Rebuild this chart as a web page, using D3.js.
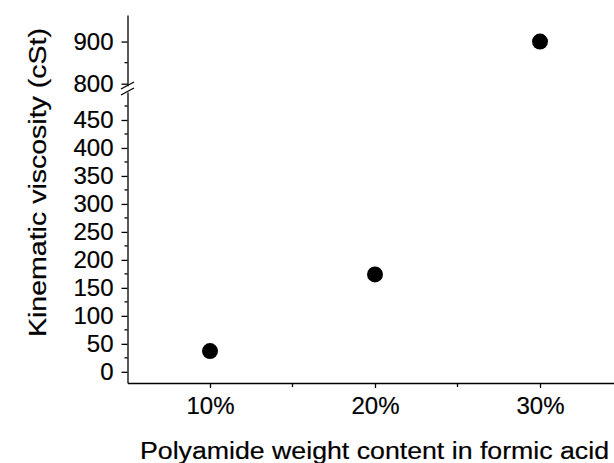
<!DOCTYPE html>
<html>
  <head>
      <script src="https://cdnjs.cloudflare.com/ajax/libs/d3/7.8.5/d3.min.js"></script>
<style>
    body { margin: 0; background: #fff; }
    svg text { font-family: "Liberation Sans", Arial, sans-serif; fill: #000; stroke: #000; stroke-width: 0.2px; }
    .axis path, .axis line { stroke: #000; stroke-width: 1.3; }
</style>
</head>

<body>
    <div id="vis"></div>
</body>
<script type="text/javascript">

    // polyamide weight content (%) and kinematic viscosity (cSt)
    const content = [10, 20, 30];
    const viscosity = [37, 174, 900];

    const xTicks = [10, 20, 30], xMinor = [15, 25];
    const lowTicks = d3.range(0, 451, 50), lowMinor = d3.range(25, 500, 50);
    const highTicks = [800, 900], highMinor = [850];

    const W = 614, H = 463;
    const svg = d3.select("#vis").append("svg").attr("width", W).attr("height", H);

    const x = d3.scaleLinear().domain([5, 35]).range([127.5, 622.5]);
    const yLow = d3.scaleLinear().domain([-20, 500]).range([383, 92]);
    const yHigh = d3.scaleLinear().domain([795, 963]).range([85.8, 15]);
    const y = v => v > 500 ? yHigh(v) : yLow(v);

    // minor ticks first, so the major axis draws on top
    function minor(g, scale, vals, size, dir) {
        g.selectAll("line.minor").data(vals).enter().append("line")
            .attr("class", "minor")
            .attr("x1", d => dir == "x" ? scale(d) : 0)
            .attr("x2", d => dir == "x" ? scale(d) : -size)
            .attr("y1", d => dir == "x" ? 0 : scale(d))
            .attr("y2", d => dir == "x" ? size : scale(d));
    }

    const gx = svg.append("g").attr("class", "axis").attr("transform", "translate(0,383)");
    minor(gx, x, xMinor, 4, "x");
    gx.call(d3.axisBottom(x).tickValues(xTicks).tickSize(5).tickSizeOuter(0).tickFormat(d => d + "%"));
    gx.selectAll("text").attr("y", 31).attr("dy", 0);

    const gLow = svg.append("g").attr("class", "axis").attr("transform", "translate(127.5,0)");
    minor(gLow, yLow, lowMinor, 3, "y");
    gLow.call(d3.axisLeft(yLow).tickValues(lowTicks).tickSize(6).tickPadding(8).tickSizeOuter(0));

    const gHigh = svg.append("g").attr("class", "axis").attr("transform", "translate(127.5,0)");
    minor(gHigh, yHigh, highMinor, 3, "y");
    gHigh.call(d3.axisLeft(yHigh).tickValues(highTicks).tickSize(6).tickPadding(8).tickSizeOuter(0));

    svg.selectAll(".axis text").style("font-size", "24px").attr("fill", "#000");

    // axis break marks
    [0, 6].forEach(off => {
        svg.append("line")
            .attr("x1", 121).attr("y1", 89 + off)
            .attr("x2", 134).attr("y2", 82 + off)
            .attr("stroke", "#000").attr("stroke-width", 1.3);
    });

    svg.append("g").selectAll("circle")
        .data(d3.zip(content, viscosity))
        .enter()
        .append("circle")
        .attr("cx", d => x(d[0]))
        .attr("cy", d => y(d[1]))
        .attr("r", 8)
        .style("fill", "#000");

    svg.append("text")
        .attr("x", 374.5).attr("y", 459)
        .attr("text-anchor", "middle")
        .attr("textLength", 469).attr("lengthAdjust", "spacingAndGlyphs")
        .style("font-size", "23.5px")
        .text("Polyamide weight content in formic acid");

    svg.append("text")
        .attr("transform", "translate(46,182.5) rotate(-90)")
        .attr("text-anchor", "middle")
        .attr("textLength", 309).attr("lengthAdjust", "spacingAndGlyphs")
        .style("font-size", "23.5px")
        .text("Kinematic viscosity (cSt)");

</script>
</html>
